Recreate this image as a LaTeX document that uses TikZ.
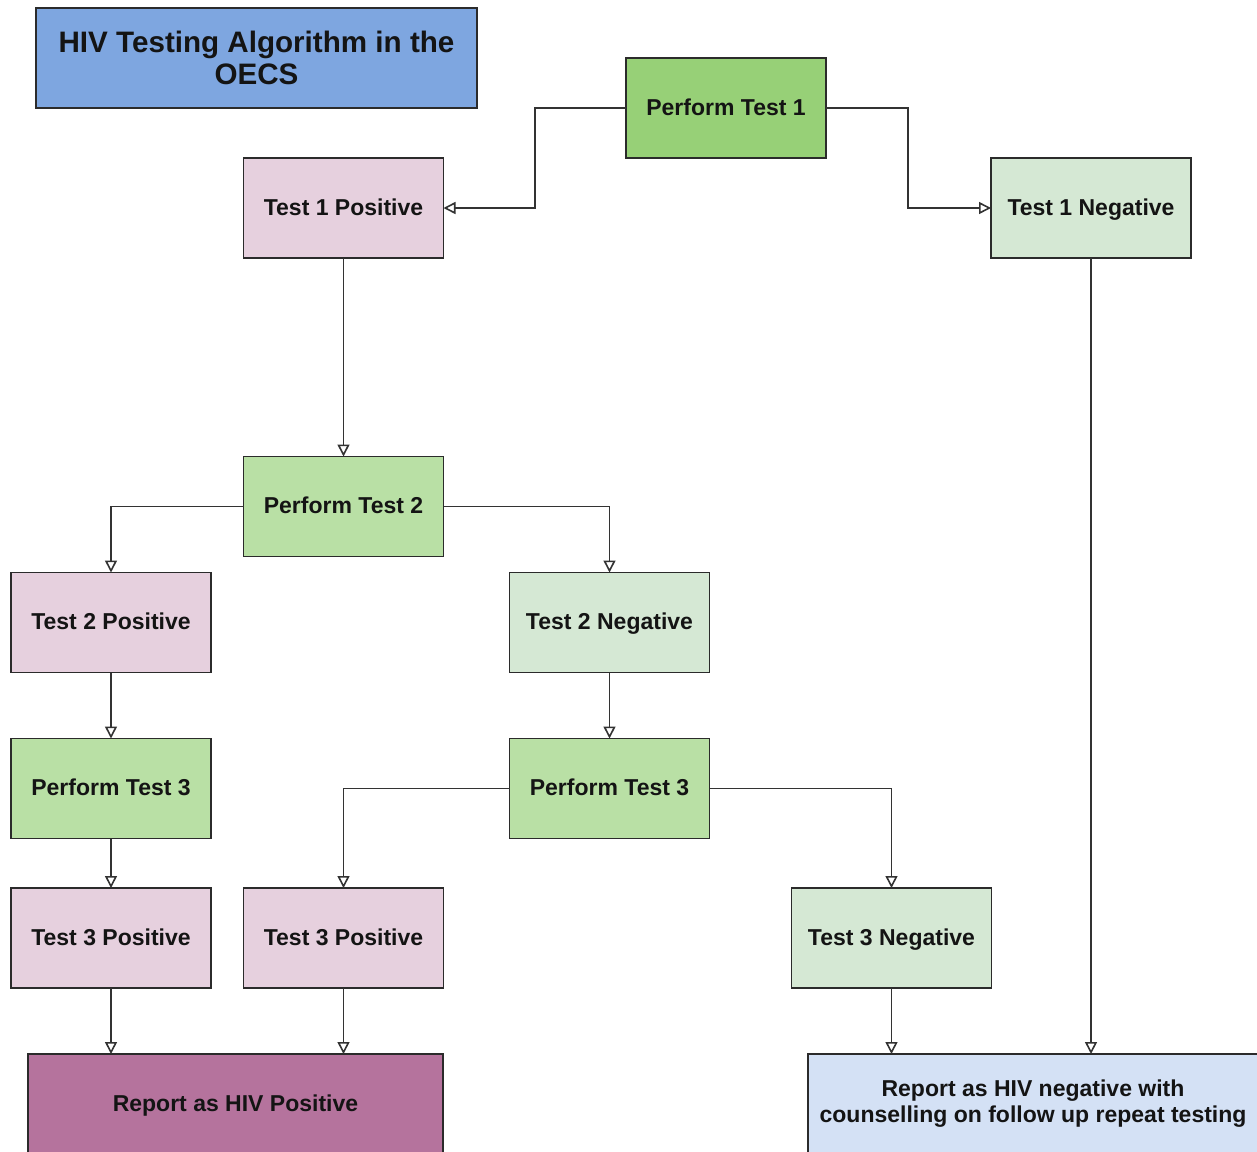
\documentclass[tikz,border=0pt]{standalone}
\usepackage{fontspec}
\setmainfont{Liberation Sans}
\usetikzlibrary{arrows.meta}
\definecolor{titleblue}{HTML}{7EA6E0}
\definecolor{greendark}{HTML}{97D077}
\definecolor{greenmid}{HTML}{B9E0A5}
\definecolor{greenlight}{HTML}{D5E8D4}
\definecolor{pinklight}{HTML}{E6D0DE}
\definecolor{mauve}{HTML}{B5739D}
\definecolor{bluelight}{HTML}{D4E1F5}
\definecolor{boxline}{HTML}{2B2B2B}
\definecolor{lineclr}{HTML}{333333}
\definecolor{txt}{HTML}{141414}
\begin{document}
\begin{tikzpicture}[x=0.5pt,y=-0.5pt,
  box/.style={draw=boxline, line width=0.8pt, minimum width=100pt, minimum height=50pt,
    inner sep=0pt, outer sep=0pt, text=txt, align=center,
    font=\fontsize{11.5}{13}\selectfont\bfseries},
  oneline/.style={box, text height=0.92em, text depth=0.2em},
  conn/.style={draw=lineclr, line width=0.8pt, -{Triangle[open, length=6pt, width=6pt]}}]
\useasboundingbox (0,0) rectangle (1257,1151);
\clip (0,0) rectangle (1257,1151);
\fill[white] (0,0) rectangle (1257,1151);

% title
\node[box, fill=titleblue, minimum width=220.5pt, font=\fontsize{14.8}{16}\selectfont\bfseries]
  (title) at (256.5,58) {HIV Testing Algorithm in the\\OECS};

% first test
\node[oneline, fill=greendark] (pt1) at (726,108) {Perform Test 1};
\node[oneline, fill=pinklight] (t1p) at (343.5,208) {Test 1 Positive};
\node[oneline, fill=greenlight] (t1n) at (1091,208) {Test 1 Negative};

% second test
\node[oneline, fill=greenmid] (pt2) at (343.5,506.5) {Perform Test 2};
\node[oneline, fill=pinklight] (t2p) at (111,622.5) {Test 2 Positive};
\node[oneline, fill=greenlight] (t2n) at (609.5,622.5) {Test 2 Negative};

% third test
\node[oneline, fill=greenmid] (pt3a) at (111,788.5) {Perform Test 3};
\node[oneline, fill=greenmid] (pt3b) at (609.5,788.5) {Perform Test 3};
\node[oneline, fill=pinklight] (t3pa) at (111,938) {Test 3 Positive};
\node[oneline, fill=pinklight] (t3pb) at (343.5,938) {Test 3 Positive};
\node[oneline, fill=greenlight] (t3n) at (891.5,938) {Test 3 Negative};

% reports
\node[oneline, fill=mauve, minimum width=207.5pt] (rpos) at (235.5,1104) {Report as HIV Positive};
\node[box, fill=bluelight, minimum width=225pt] (rneg) at (1033,1104)
  {Report as HIV negative with\\counselling on follow up repeat testing};

% connectors
\coordinate (k1) at (535,108);
\coordinate (k2) at (908,108);
\draw[conn] (pt1.west) -- (k1) |- (t1p.east);
\draw[conn] (pt1.east) -- (k2) |- (t1n.west);
\draw[conn] (t1p.south) -- (pt2.north);
\draw[conn] (pt2.west) -| (t2p.north);
\draw[conn] (pt2.east) -| (t2n.north);
\draw[conn] (t2p.south) -- (pt3a.north);
\draw[conn] (t2n.south) -- (pt3b.north);
\draw[conn] (pt3a.south) -- (t3pa.north);
\draw[conn] (pt3b.west) -| (t3pb.north);
\draw[conn] (pt3b.east) -| (t3n.north);
\draw[conn] (t3pa.south) -- (t3pa.south |- rpos.north);
\draw[conn] (t3pb.south) -- (t3pb.south |- rpos.north);
\draw[conn] (t3n.south) -- (t3n.south |- rneg.north);
\draw[conn] (t1n.south) -- (t1n.south |- rneg.north);
\end{tikzpicture}
\end{document}
